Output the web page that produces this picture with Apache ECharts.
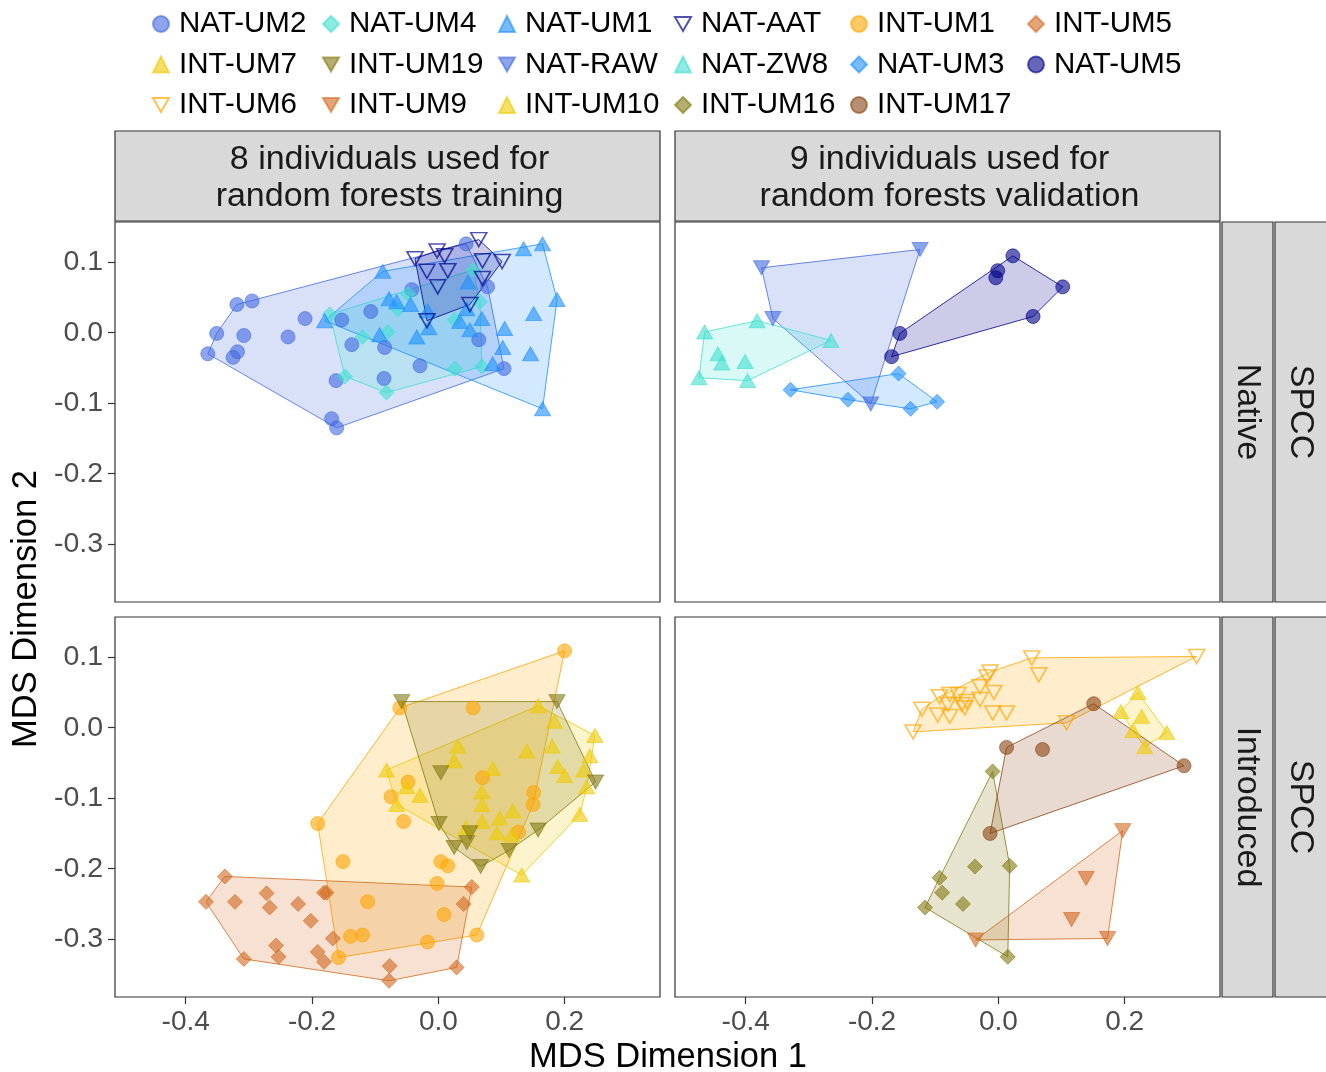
<!DOCTYPE html>
<html>
<head>
<meta charset="utf-8">
<script src="https://cdn.jsdelivr.net/npm/echarts@6/dist/echarts.min.js"></script>
<style>
  html, body { margin: 0; padding: 0; background: #ffffff; }
  #chart { width: 1326px; height: 1072px; }
</style>
</head>
<body>
<div id="chart"></div>
<script>
// MDS coordinates per individual, [dimension 1, dimension 2]

// Native, training
const natUM2 = [[0.044,0.126],[0.078,0.065],[0.064,-0.010],[0.104,-0.051],[-0.029,-0.047],[-0.086,-0.065],[-0.085,-0.021],[-0.137,-0.017],[-0.107,0.030],[-0.153,0.018],[-0.211,0.020],[-0.238,-0.006],[-0.308,-0.004],[-0.319,0.040],[-0.295,0.045],[-0.351,-0.001],[-0.365,-0.030],[-0.318,-0.027],[-0.325,-0.035],[-0.162,-0.068],[-0.169,-0.122],[-0.161,-0.135],[-0.042,0.061]];
const natUM4 = [[-0.172,0.026],[-0.120,-0.006],[-0.148,-0.062],[-0.082,-0.085],[-0.080,0.001],[-0.064,0.033],[0.026,0.018],[0.026,-0.051],[0.069,-0.048],[0.066,0.044],[0.055,0.089],[-0.048,0.055]];
const natUM1 = [[-0.088,0.087],[-0.078,0.048],[-0.066,0.044],[-0.044,0.040],[-0.180,0.017],[-0.093,-0.003],[-0.034,-0.006],[-0.017,0.031],[-0.015,0.007],[0.047,0.072],[0.045,0.034],[0.034,0.016],[0.050,0.004],[0.069,0.020],[0.105,0.006],[0.102,-0.021],[0.146,-0.030],[0.086,-0.044],[0.135,0.119],[0.165,0.126],[0.188,0.047],[0.151,0.027],[0.165,-0.108]];
const natAAT = [[0.064,0.132],[-0.002,0.116],[0.010,0.109],[-0.037,0.105],[0.070,0.102],[0.101,0.101],[-0.018,0.087],[0.015,0.088],[-0.001,0.065],[0.070,0.077],[0.050,0.040],[-0.018,0.017]];

// Native, validation
const natRAW = [[-0.375,0.092],[-0.124,0.118],[-0.357,0.020],[-0.202,-0.101]];
const natZW8 = [[-0.465,0.001],[-0.382,0.017],[-0.265,-0.011],[-0.444,-0.030],[-0.438,-0.043],[-0.401,-0.041],[-0.474,-0.064],[-0.397,-0.068]];
const natUM3 = [[-0.329,-0.081],[-0.238,-0.095],[-0.158,-0.058],[-0.097,-0.098],[-0.139,-0.108]];
const natUM5 = [[0.023,0.109],[-0.001,0.088],[-0.004,0.078],[0.102,0.065],[0.055,0.023],[-0.156,-0.001],[-0.169,-0.034]];

// Introduced, training
const intUM1 = [[0.200,0.109],[-0.061,0.028],[0.055,0.028],[-0.048,-0.077],[0.070,-0.071],[-0.075,-0.098],[-0.055,-0.133],[0.151,-0.092],[0.150,-0.109],[0.127,-0.148],[-0.191,-0.136],[-0.151,-0.190],[0.004,-0.190],[0.015,-0.196],[-0.002,-0.221],[-0.112,-0.247],[0.009,-0.265],[-0.139,-0.296],[-0.120,-0.294],[0.061,-0.294],[-0.017,-0.304],[-0.158,-0.326]];
const intUM5 = [[-0.338,-0.211],[-0.368,-0.247],[-0.322,-0.247],[-0.272,-0.235],[-0.267,-0.255],[-0.222,-0.250],[-0.202,-0.274],[-0.181,-0.234],[-0.177,-0.234],[-0.167,-0.299],[-0.257,-0.309],[-0.253,-0.325],[-0.308,-0.328],[-0.191,-0.318],[-0.181,-0.332],[-0.077,-0.338],[-0.078,-0.359],[0.029,-0.340],[0.040,-0.250],[0.053,-0.226]];
const intUM7 = [[0.158,0.031],[0.184,0.009],[0.248,-0.011],[0.240,-0.040],[0.031,-0.026],[0.025,-0.047],[0.140,-0.033],[0.180,-0.026],[-0.082,-0.060],[-0.029,-0.096],[-0.050,-0.084],[-0.066,-0.109],[0.086,-0.058],[0.069,-0.091],[0.069,-0.109],[0.118,-0.118],[0.097,-0.128],[0.069,-0.133],[0.189,-0.055],[0.200,-0.068],[0.230,-0.060],[0.235,-0.084],[0.224,-0.123],[0.044,-0.142],[0.093,-0.149],[0.116,-0.152],[0.132,-0.209]];
const intUM19 = [[-0.058,0.037],[0.188,0.037],[0.249,-0.077],[0.004,-0.064],[0.001,-0.136],[0.050,-0.149],[0.045,-0.163],[0.025,-0.170],[0.067,-0.197],[0.158,-0.145],[0.112,-0.174]];

// Introduced, validation
const intUM6 = [[0.053,0.099],[0.314,0.101],[0.064,0.075],[-0.013,0.079],[-0.018,0.072],[-0.029,0.058],[-0.007,0.050],[-0.093,0.044],[-0.077,0.047],[-0.064,0.047],[-0.050,0.037],[-0.029,0.040],[-0.080,0.033],[-0.058,0.033],[-0.121,0.026],[-0.096,0.018],[-0.077,0.016],[-0.053,0.028],[-0.009,0.021],[0.013,0.021],[0.108,0.007],[-0.135,-0.006]];
const intUM9 = [[0.197,-0.146],[0.139,-0.214],[0.116,-0.272],[0.173,-0.299],[-0.036,-0.301]];
const intUM10 = [[0.221,0.050],[0.194,0.023],[0.227,0.016],[0.213,-0.004],[0.267,-0.007],[0.232,-0.027]];
const intUM16 = [[-0.009,-0.062],[-0.037,-0.197],[0.018,-0.196],[-0.093,-0.213],[-0.089,-0.234],[-0.056,-0.250],[-0.116,-0.255],[0.015,-0.325]];
const intUM17 = [[0.151,0.034],[0.013,-0.028],[0.070,-0.031],[0.294,-0.054],[-0.013,-0.150]];

// Axis ranges and tick labels
const xRange = [-0.512, 0.351];
const yRange = [-0.382, 0.157];
const xTicks = [-0.4, -0.2, 0.0, 0.2];
const yTicks = [-0.3, -0.2, -0.1, 0.0, 0.1];

// Facet labels
const colStrips = ['8 individuals used for\nrandom forests training', '9 individuals used for\nrandom forests validation'];
const rowStrips = ['Native', 'Introduced'];
const outerStrip = 'SPCC';

// Legend rows
const legendRows = [
  ['NAT-UM2', 'NAT-UM4', 'NAT-UM1', 'NAT-AAT', 'INT-UM1', 'INT-UM5'],
  ['INT-UM7', 'INT-UM19', 'NAT-RAW', 'NAT-ZW8', 'NAT-UM3', 'NAT-UM5'],
  ['INT-UM6', 'INT-UM9', 'INT-UM10', 'INT-UM16', 'INT-UM17']
];

const FONT = '"Liberation Sans", Arial, Helvetica, sans-serif';
const ROYAL = [65, 105, 225], TURQ = [64, 224, 208], DODGER = [30, 144, 255], DARKBLUE = [0, 0, 139];
const ORANGE = [255, 165, 0], CHOC = [210, 105, 30], GOLD = [238, 201, 0], OLIVE = [130, 120, 15], BROWN = [139, 69, 19];
const DOWN = 'path://M0,0L20,0L10,17.3Z';

// panel: 0 native/training, 1 native/validation, 2 introduced/training, 3 introduced/validation
const groups = [
  { name: 'NAT-UM2', data: natUM2, panel: 0, shape: 'circle', rgb: ROYAL },
  { name: 'NAT-UM4', data: natUM4, panel: 0, shape: 'diamond', rgb: TURQ },
  { name: 'NAT-UM1', data: natUM1, panel: 0, shape: 'triangle', rgb: DODGER },
  { name: 'NAT-AAT', data: natAAT, panel: 0, shape: DOWN, rgb: DARKBLUE, open: true },
  { name: 'INT-UM1', data: intUM1, panel: 2, shape: 'circle', rgb: ORANGE },
  { name: 'INT-UM5', data: intUM5, panel: 2, shape: 'diamond', rgb: CHOC },
  { name: 'INT-UM7', data: intUM7, panel: 2, shape: 'triangle', rgb: GOLD },
  { name: 'INT-UM19', data: intUM19, panel: 2, shape: DOWN, rgb: OLIVE },
  { name: 'NAT-RAW', data: natRAW, panel: 1, shape: DOWN, rgb: ROYAL },
  { name: 'NAT-ZW8', data: natZW8, panel: 1, shape: 'triangle', rgb: TURQ },
  { name: 'NAT-UM3', data: natUM3, panel: 1, shape: 'diamond', rgb: DODGER },
  { name: 'NAT-UM5', data: natUM5, panel: 1, shape: 'circle', rgb: DARKBLUE },
  { name: 'INT-UM6', data: intUM6, panel: 3, shape: DOWN, rgb: ORANGE, open: true },
  { name: 'INT-UM9', data: intUM9, panel: 3, shape: DOWN, rgb: CHOC },
  { name: 'INT-UM10', data: intUM10, panel: 3, shape: 'triangle', rgb: GOLD },
  { name: 'INT-UM16', data: intUM16, panel: 3, shape: 'diamond', rgb: OLIVE },
  { name: 'INT-UM17', data: intUM17, panel: 3, shape: 'circle', rgb: BROWN }
];

const rgba = (c, a) => `rgba(${c[0]},${c[1]},${c[2]},${a})`;

function symbolSize(shape) {
  if (shape === 'circle') return 14;
  if (shape === 'diamond') return 15;
  return [16, 14];
}

// Convex hull (monotone chain) of a group's points
function convexHull(points) {
  const p = points.slice().sort((a, b) => a[0] - b[0] || a[1] - b[1]);
  const cross = (o, a, b) => (a[0] - o[0]) * (b[1] - o[1]) - (a[1] - o[1]) * (b[0] - o[0]);
  const lower = [], upper = [];
  for (const q of p) {
    while (lower.length >= 2 && cross(lower[lower.length - 2], lower[lower.length - 1], q) <= 0) lower.pop();
    lower.push(q);
  }
  for (let i = p.length - 1; i >= 0; i--) {
    const q = p[i];
    while (upper.length >= 2 && cross(upper[upper.length - 2], upper[upper.length - 1], q) <= 0) upper.pop();
    upper.push(q);
  }
  upper.pop(); lower.pop();
  return lower.concat(upper);
}

const PANELS = [
  { left: 115, top: 222 }, { left: 675, top: 222 },
  { left: 115, top: 617 }, { left: 675, top: 617 }
];
const PW = 545, PH = 380;

const grids = PANELS.map(p => ({
  left: p.left, top: p.top, width: PW, height: PH,
  show: true, backgroundColor: '#ffffff', borderColor: '#333333', borderWidth: 1.2,
  containLabel: false, outerBoundsMode: 'none'
}));

const fmt = v => v.toFixed(1);

const xAxes = PANELS.map((p, i) => ({
  type: 'value', gridIndex: i, min: xRange[0], max: xRange[1],
  axisLine: { show: false, onZero: false },
  splitLine: { show: false },
  axisTick: { show: i >= 2, length: 7, customValues: xTicks, lineStyle: { color: '#333333', width: 1.2 } },
  axisLabel: { show: i >= 2, customValues: xTicks, formatter: fmt, fontSize: 28, fontFamily: FONT, color: '#4D4D4D', margin: 11 }
}));

const yAxes = PANELS.map((p, i) => ({
  type: 'value', gridIndex: i, min: yRange[0], max: yRange[1],
  axisLine: { show: false, onZero: false },
  splitLine: { show: false },
  axisTick: { show: i % 2 === 0, length: 7, customValues: yTicks, lineStyle: { color: '#333333', width: 1.2 } },
  axisLabel: { show: i % 2 === 0, customValues: yTicks, formatter: fmt, fontSize: 28.5, fontFamily: FONT, color: '#4D4D4D', margin: 12 }
}));

const series = [];
// points (listed first so legend icons take the marker style)
groups.forEach(g => {
  series.push({
    type: 'scatter', name: g.name, data: g.data,
    xAxisIndex: g.panel, yAxisIndex: g.panel, z: 3,
    symbol: g.shape, symbolSize: symbolSize(g.shape),
    itemStyle: g.open
      ? { color: 'rgba(255,255,255,0)', borderColor: rgba(g.rgb, 0.85), borderWidth: 1.6 }
      : { color: rgba(g.rgb, 0.75), borderColor: rgba(g.rgb, 0.75), borderWidth: 1 },
    emphasis: { disabled: true }
  });
});
// hull polygons underneath
groups.forEach(g => {
  const hull = convexHull(g.data);
  series.push({
    type: 'custom', name: g.name, data: [hull[0]],
    xAxisIndex: g.panel, yAxisIndex: g.panel, z: 1, silent: true,
    renderItem: (params, api) => ({
      type: 'polygon',
      shape: { points: hull.map(pt => api.coord(pt)) },
      style: { fill: rgba(g.rgb, 0.2), stroke: rgba(g.rgb, 0.8), lineWidth: 1 }
    })
  });
});

// legend columns: the first one is a little narrower
const colOf = {};
legendRows.forEach(row => row.forEach((n, c) => { colOf[n] = c; }));
const legendRich = {};
[143, 149, 149, 149, 150, 150].forEach((w, c) => {
  legendRich['c' + c] = { width: w, padding: [0, 0, 0, 5], fontSize: 29.5, fontFamily: FONT, color: '#000000', lineHeight: 30 };
});
const legends = legendRows.map((row, r) => ({
  data: row, orient: 'horizontal', left: 152, top: 9 + r * 40.5,
  padding: 0, itemGap: 0, itemWidth: 16, itemHeight: 16,
  formatter: n => '{c' + colOf[n] + '|' + n + '}',
  textStyle: { rich: legendRich },
  selectedMode: true
}));

const stripStyle = { fill: '#D9D9D9', stroke: '#333333', lineWidth: 1.2 };
const graphic = [];
colStrips.forEach((t, i) => {
  const left = PANELS[i].left;
  graphic.push({ type: 'rect', shape: { x: left, y: 131, width: PW, height: 90 }, style: stripStyle, z: 10 });
  graphic.push({ type: 'text', x: left + PW / 2 + 2, y: 178, z: 11,
    style: { text: t, align: 'center', verticalAlign: 'middle', fontSize: 34, fontFamily: FONT, fill: '#1A1A1A', lineHeight: 37 } });
});
rowStrips.forEach((t, r) => {
  const top = PANELS[r * 2].top;
  graphic.push({ type: 'rect', shape: { x: 1222, y: top, width: 51, height: PH }, style: stripStyle, z: 10 });
  graphic.push({ type: 'rect', shape: { x: 1275, y: top, width: 60, height: PH }, style: stripStyle, z: 10 });
  graphic.push({ type: 'text', x: 1247.5, y: top + PH / 2, rotation: -Math.PI / 2, z: 11,
    style: { text: t, align: 'center', verticalAlign: 'middle', fontSize: 34, fontFamily: FONT, fill: '#1A1A1A' } });
  graphic.push({ type: 'text', x: 1300.5, y: top + PH / 2, rotation: -Math.PI / 2, z: 11,
    style: { text: outerStrip, align: 'center', verticalAlign: 'middle', fontSize: 34, fontFamily: FONT, fill: '#1A1A1A' } });
});
graphic.push({ type: 'text', x: 668, y: 1057, z: 11,
  style: { text: 'MDS Dimension 1', align: 'center', verticalAlign: 'middle', fontSize: 34.5, fontFamily: FONT, fill: '#000000' } });
graphic.push({ type: 'text', x: 26, y: 609, rotation: Math.PI / 2, z: 11,
  style: { text: 'MDS Dimension 2', align: 'center', verticalAlign: 'middle', fontSize: 34.5, fontFamily: FONT, fill: '#000000' } });

const chart = echarts.init(document.getElementById('chart'), null, { renderer: 'canvas' });
chart.setOption({
  animation: false,
  backgroundColor: '#ffffff',
  legend: legends,
  grid: grids,
  xAxis: xAxes,
  yAxis: yAxes,
  series: series,
  graphic: graphic
});
</script>
</body>
</html>
